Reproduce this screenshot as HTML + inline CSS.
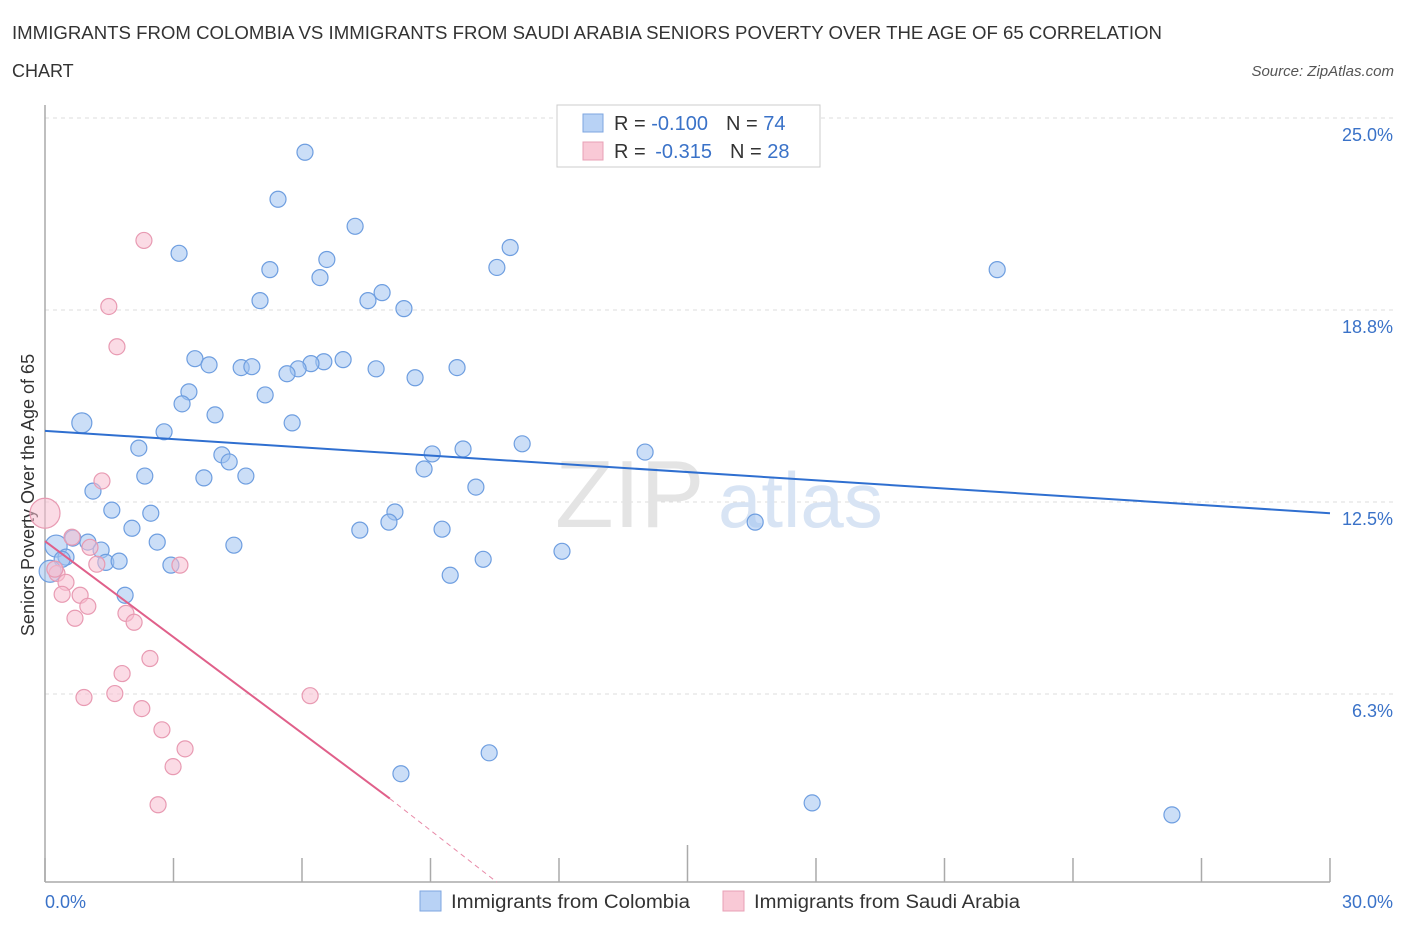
<!DOCTYPE html>
<html><head><meta charset="utf-8"><style>
body{margin:0;background:#fff;font-family:"Liberation Sans",sans-serif;}
svg text{font-family:"Liberation Sans",sans-serif;}
</style></head><body>
<svg width="1406" height="930" xmlns="http://www.w3.org/2000/svg">
<text x="12" y="39" font-size="18" fill="#333" textLength="1150" lengthAdjust="spacingAndGlyphs">IMMIGRANTS FROM COLOMBIA VS IMMIGRANTS FROM SAUDI ARABIA SENIORS POVERTY OVER THE AGE OF 65 CORRELATION</text>
<text x="12" y="77" font-size="18" fill="#333">CHART</text>
<text x="1394" y="76" font-size="15" fill="#555" font-style="italic" text-anchor="end">Source: ZipAtlas.com</text>
<g id="grid"></g>
<g id="yticks"></g>
<text x="555" y="527" font-size="96" fill="#e4e4e4" font-family="Liberation Serif">ZIP</text>
<text x="718" y="527" font-size="78" fill="#d8e4f4">atlas</text>
<line x1="45" y1="105" x2="45" y2="882" stroke="#aaa" stroke-width="1.5"/>
<line x1="45" y1="882" x2="1330" y2="882" stroke="#aaa" stroke-width="1.5"/>
<g id="xticks"></g>
<text x="45" y="908" font-size="18" fill="#3a72c8">0.0%</text>
<text x="1393" y="908" font-size="18" fill="#3a72c8" text-anchor="end">30.0%</text>
<text transform="translate(34,495) rotate(-90)" font-size="18" fill="#333" text-anchor="middle">Seniors Poverty Over the Age of 65</text>
<g id="pts"></g>
<g id="trend"></g>
<g>
<rect x="557" y="105" width="263" height="62" fill="#fff" stroke="#ccc"/>
<rect x="583" y="114" width="20" height="18" fill="#b8d2f5" stroke="#7ea6e0"/>
<text x="614" y="130" font-size="20" fill="#333">R = <tspan fill="#3a72c8">-0.100</tspan><tspan dx="18">N = </tspan><tspan fill="#3a72c8">74</tspan></text>
<rect x="583" y="142" width="20" height="18" fill="#f9c9d6" stroke="#e8a0b6"/>
<text x="614" y="158" font-size="20" fill="#333">R = <tspan dx="4" fill="#3a72c8">-0.315</tspan><tspan dx="18">N = </tspan><tspan fill="#3a72c8">28</tspan></text>
</g>
<g>
<rect x="420" y="891" width="21" height="20" fill="#b8d2f5" stroke="#7ea6e0"/>
<text x="451" y="908" font-size="19" fill="#333" textLength="239" lengthAdjust="spacingAndGlyphs">Immigrants from Colombia</text>
<rect x="723" y="891" width="21" height="20" fill="#f9c9d6" stroke="#e8a0b6"/>
<text x="754" y="908" font-size="19" fill="#333" textLength="266" lengthAdjust="spacingAndGlyphs">Immigrants from Saudi Arabia</text>
</g>
</svg>
<script>
const yTicks=[25,18.75,12.5,6.25];
const yTickLabels=["25.0%","18.8%","12.5%","6.3%"];
const xTickVals=[0,3,6,9,12,15,18,21,24,27,30];
const colX=[6.07,5.44,7.24,3.13,10.86,5.25,6.58,10.55,6.42,22.23,7.87,7.54,5.02,8.38,3.50,3.83,4.58,4.83,6.96,6.51,6.21,5.91,5.65,7.73,9.62,8.64,3.36,5.14,3.20,3.97,5.77,0.86,2.78,2.19,4.13,4.30,11.14,9.76,9.04,14.01,2.33,3.71,4.69,8.85,1.12,10.06,1.56,2.47,8.17,8.03,2.03,7.35,9.27,16.58,0.65,1.00,2.62,4.41,1.31,0.26,0.49,0.40,1.42,1.73,2.94,10.23,12.07,9.46,1.87,0.12,10.37,8.31,17.91,26.31];
const colY=[23.95,22.42,21.54,20.66,20.85,20.13,20.46,20.20,19.87,20.13,19.38,19.12,19.12,18.86,17.23,17.03,16.94,16.97,17.20,17.13,17.07,16.90,16.74,16.90,16.94,16.61,16.15,16.05,15.76,15.40,15.14,15.14,14.85,14.32,14.10,13.87,14.46,14.29,14.13,14.19,13.41,13.35,13.41,13.64,12.92,13.05,12.30,12.20,12.24,11.91,11.71,11.65,11.68,11.91,11.39,11.26,11.26,11.16,11.00,11.13,10.77,10.70,10.60,10.64,10.51,10.70,10.96,10.18,9.53,10.31,4.40,3.72,2.77,2.38];
const colR=[8,8,8,8,8,8,8,8,8,8,8,8,8,8,8,8,8,8,8,8,8,8,8,8,8,8,8,8,8,8,8,10,8,8,8,8,8,8,8,8,8,8,8,8,8,8,8,8,8,8,8,8,8,8,8,8,8,8,8,11,8,8,8,8,8,8,8,8,8,11,8,8,8,8];
const sauX=[2.31,1.49,1.68,0,1.33,0.63,1.05,1.21,3.15,0.28,0.23,0.49,0.40,0.82,1.00,1.89,2.08,0.70,2.45,1.80,0.91,1.63,6.19,2.26,2.73,3.27,2.99,2.64];
const sauY=[21.08,18.93,17.62,12.20,13.25,11.42,11.09,10.54,10.51,10.24,10.38,9.95,9.56,9.53,9.17,8.94,8.65,8.78,7.47,6.98,6.20,6.33,6.26,5.84,5.15,4.53,3.95,2.71];
const sauR=[8,8,8,15,8,8,8,8,8,8,8,8,8,8,8,8,8,8,8,8,8,8,8,8,8,8,8,8];
const colTrend=[[0,14.88],[30,12.20]];
const sauTrend=[[0,11.29],[8.05,2.91]];
const sauTrendExt=[[8.05,2.91],[10.55,0.19]];
const xs=v=>45+v*42.833, ys=v=>888-v*30.72;
const NS="http://www.w3.org/2000/svg";
function mk(t,a,p){const e=document.createElementNS(NS,t);for(const k in a)e.setAttribute(k,a[k]);p.appendChild(e);return e;}
const grid=document.getElementById('grid'),yt=document.getElementById('yticks'),xt=document.getElementById('xticks'),pts=document.getElementById('pts'),tr=document.getElementById('trend');
yTicks.forEach((t,i)=>{
 const l=mk('line',{x1:45,x2:1395,y1:ys(t)-2,y2:ys(t)-2,stroke:'#ddd','stroke-dasharray':'4,4'},grid);
 
 
 const tx=mk('text',{x:1393,y:ys(t)+21,'font-size':18,fill:'#3a72c8','text-anchor':'end'},yt);
 tx.textContent=yTickLabels[i];
 
 
});
xTickVals.forEach((v,i)=>{
 const l=mk('line',{x1:xs(v),x2:xs(v),y1:(i==5?845:858),y2:882,stroke:'#aaa','stroke-width':1.5},xt);
 
 
});
colX.forEach((v,i)=>{
 const c=mk('circle',{cx:xs(v),cy:ys(colY[i]),r:colR[i],fill:'rgba(160,195,240,0.55)',stroke:'#6e9ee0','stroke-width':1.2},pts);
 
 
});
sauX.forEach((v,i)=>{
 const c=mk('circle',{cx:xs(v),cy:ys(sauY[i]),r:sauR[i],fill:'rgba(248,190,208,0.55)',stroke:'#e89ab2','stroke-width':1.2},pts);
 
 
});
let l1=mk('line',{x1:xs(colTrend[0][0]),y1:ys(colTrend[0][1]),x2:xs(colTrend[1][0]),y2:ys(colTrend[1][1]),stroke:'#2f6fd0','stroke-width':2},tr);


let l2=mk('line',{x1:xs(sauTrend[0][0]),y1:ys(sauTrend[0][1]),x2:xs(sauTrend[1][0]),y2:ys(sauTrend[1][1]),stroke:'#e0608a','stroke-width':2},tr);


let l3=mk('line',{x1:xs(sauTrendExt[0][0]),y1:ys(sauTrendExt[0][1]),x2:xs(sauTrendExt[1][0]),y2:ys(sauTrendExt[1][1]),stroke:'#e88aa8','stroke-width':1,'stroke-dasharray':'5,4'},tr);


</script>
</body></html>
